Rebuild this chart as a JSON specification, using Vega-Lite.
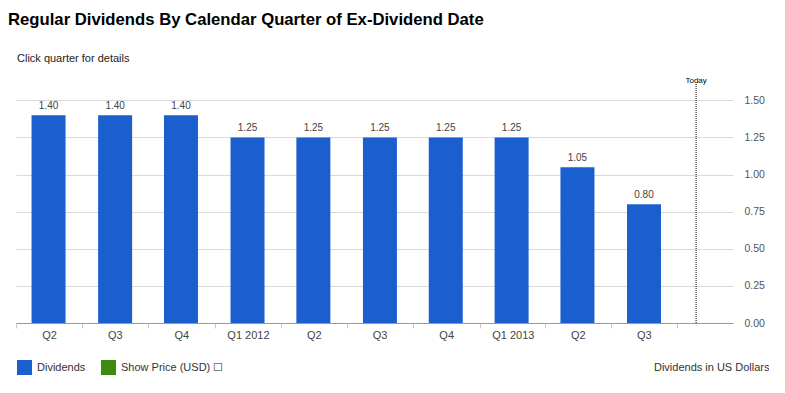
{
  "$schema": "https://vega.github.io/schema/vega-lite/v6.json",
  "padding": {"left": 8, "top": 12, "right": 0, "bottom": 0},
  "background": "white",
  "config": {
    "font": "Liberation Sans",
    "view": {"stroke": null}
  },
  "title": {
    "text": "Regular Dividends By Calendar Quarter of Ex-Dividend Date",
    "anchor": "start",
    "frame": "group",
    "dx": -8,
    "fontSize": 16.7,
    "fontWeight": "bold",
    "color": "#000000",
    "offset": 24
  },
  "vconcat": [
    {
      "width": 717,
      "height": 239,
      "title": {
        "text": "Click quarter for details",
        "anchor": "start",
        "frame": "group",
        "dx": 1,
        "fontSize": 11,
        "fontWeight": "normal",
        "color": "#222222",
        "offset": 13
      },
      "data": {
        "values": [
          {"quarter": "Q2 2011", "date": "2011-05-16", "dividend": 1.40, "series": "Dividends"},
          {"quarter": "Q3 2011", "date": "2011-08-16", "dividend": 1.40, "series": "Dividends"},
          {"quarter": "Q4 2011", "date": "2011-11-15", "dividend": 1.40, "series": "Dividends"},
          {"quarter": "Q1 2012", "date": "2012-02-15", "dividend": 1.25, "series": "Dividends"},
          {"quarter": "Q2 2012", "date": "2012-05-16", "dividend": 1.25, "series": "Dividends"},
          {"quarter": "Q3 2012", "date": "2012-08-16", "dividend": 1.25, "series": "Dividends"},
          {"quarter": "Q4 2012", "date": "2012-11-15", "dividend": 1.25, "series": "Dividends"},
          {"quarter": "Q1 2013", "date": "2013-02-14", "dividend": 1.25, "series": "Dividends"},
          {"quarter": "Q2 2013", "date": "2013-05-16", "dividend": 1.05, "series": "Dividends"},
          {"quarter": "Q3 2013", "date": "2013-08-16", "dividend": 0.80, "series": "Dividends"}
        ]
      },
      "encoding": {
        "x": {
          "field": "date",
          "type": "temporal",
          "scale": {
            "type": "utc",
            "domain": [
              {"year": 2011, "month": 4, "date": 1, "utc": true},
              {"year": 2013, "month": 12, "date": 17, "utc": true}
            ],
            "nice": false,
            "padding": 0
          },
          "axis": {
            "title": null,
            "values": [
              {"year": 2011, "month": 4, "date": 1, "utc": true},
              {"year": 2011, "month": 7, "date": 1, "utc": true},
              {"year": 2011, "month": 10, "date": 1, "utc": true},
              {"year": 2012, "month": 1, "date": 1, "utc": true},
              {"year": 2012, "month": 4, "date": 1, "utc": true},
              {"year": 2012, "month": 7, "date": 1, "utc": true},
              {"year": 2012, "month": 10, "date": 1, "utc": true},
              {"year": 2013, "month": 1, "date": 1, "utc": true},
              {"year": 2013, "month": 4, "date": 1, "utc": true},
              {"year": 2013, "month": 7, "date": 1, "utc": true},
              {"year": 2013, "month": 10, "date": 1, "utc": true}
            ],
            "labelExpr": "utcquarter(datum.value) == 1 ? 'Q1 ' + utcyear(datum.value) : ((utcyear(datum.value) == 2013 && utcquarter(datum.value) == 4) ? '' : 'Q' + utcquarter(datum.value))",
            "labelOffset": 33,
            "labelFlush": false,
            "labelOverlap": false,
            "labelBound": false,
            "labelFontSize": 11,
            "labelColor": "#444444",
            "labelPadding": 1,
            "grid": false,
            "domainColor": "#999999",
            "tickColor": "#cccccc",
            "tickSize": 5
          }
        }
      },
      "layer": [
        {
          "mark": {"type": "bar", "width": 34},
          "encoding": {
            "y": {
              "field": "dividend",
              "type": "quantitative",
              "scale": {"domain": [0, 1.61], "nice": false, "zero": true},
              "axis": {
                "orient": "right",
                "values": [0, 0.25, 0.5, 0.75, 1.0, 1.25, 1.5],
                "format": ".2f",
                "grid": true,
                "gridColor": "#d9d9d9",
                "domain": false,
                "ticks": false,
                "labelPadding": 11,
                "labelFontSize": 10.5,
                "labelColor": "#555555",
                "title": "Dividends in US Dollars",
                "titleAngle": 0,
                "titleAlign": "right",
                "titleBaseline": "middle",
                "titleX": 36,
                "titleY": 283,
                "titleFontWeight": "normal",
                "titleFontSize": 11,
                "titleColor": "#333333"
              }
            },
            "color": {
              "field": "series",
              "type": "nominal",
              "scale": {"domain": ["Dividends", "Show Price (USD)"], "range": ["#1a5fcd", "#3d8a0c"]},
              "legend": {
                "title": null,
                "orient": "none",
                "legendX": 1,
                "legendY": 276,
                "direction": "horizontal",
                "symbolType": "square",
                "symbolSize": 225,
                "symbolStrokeWidth": 0,
                "symbolOpacity": 1,
                "labelFontSize": 11,
                "labelColor": "#333333",
                "labelOffset": 5,
                "columnPadding": 15,
                "labelExpr": "datum.label == 'Show Price (USD)' ? datum.label + ' \u2610' : datum.label"
              }
            }
          }
        },
        {
          "mark": {"type": "text", "baseline": "bottom", "dy": -4, "fontSize": 10, "color": "#444444"},
          "encoding": {
            "y": {
              "field": "dividend",
              "type": "quantitative",
              "scale": {"domain": [0, 1.61], "nice": false, "zero": true},
              "axis": {
                "orient": "right",
                "values": [0, 0.25, 0.5, 0.75, 1.0, 1.25, 1.5],
                "format": ".2f",
                "grid": true,
                "gridColor": "#d9d9d9",
                "domain": false,
                "ticks": false,
                "labelPadding": 11,
                "labelFontSize": 10.5,
                "labelColor": "#555555",
                "title": "Dividends in US Dollars",
                "titleAngle": 0,
                "titleAlign": "right",
                "titleBaseline": "middle",
                "titleX": 36,
                "titleY": 283,
                "titleFontWeight": "normal",
                "titleFontSize": 11,
                "titleColor": "#333333"
              }
            },
            "text": {"field": "dividend", "type": "quantitative", "format": ".2f"}
          }
        },
        {
          "data": {"values": [{"label": "Today", "date": "2013-10-27"}]},
          "mark": {"type": "rule", "color": "#000000", "strokeWidth": 1, "strokeDash": [1, 1]},
          "encoding": {}
        },
        {
          "data": {"values": [{"label": "Today", "date": "2013-10-27"}]},
          "mark": {"type": "text", "baseline": "bottom", "fontSize": 8, "color": "#000000", "dy": 1},
          "encoding": {
            "y": {
              "datum": 1.61,
              "type": "quantitative",
              "axis": {
                "orient": "right",
                "values": [0, 0.25, 0.5, 0.75, 1.0, 1.25, 1.5],
                "format": ".2f",
                "grid": true,
                "gridColor": "#d9d9d9",
                "domain": false,
                "ticks": false,
                "labelPadding": 11,
                "labelFontSize": 10.5,
                "labelColor": "#555555",
                "title": "Dividends in US Dollars",
                "titleAngle": 0,
                "titleAlign": "right",
                "titleBaseline": "middle",
                "titleX": 36,
                "titleY": 283,
                "titleFontWeight": "normal",
                "titleFontSize": 11,
                "titleColor": "#333333"
              }
            },
            "text": {"field": "label", "type": "nominal"}
          }
        }
      ]
    }
  ]
}
